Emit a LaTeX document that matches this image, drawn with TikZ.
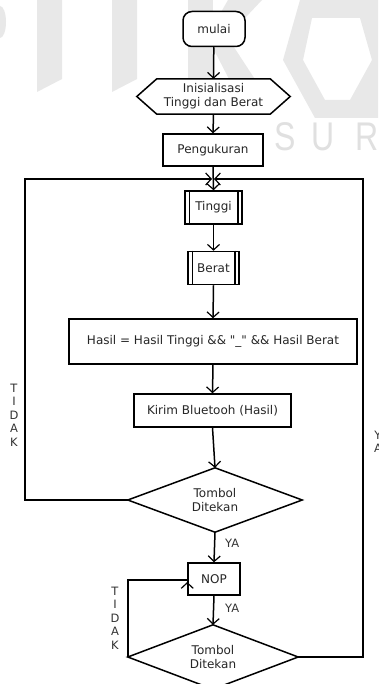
\documentclass[tikz,border=0pt]{standalone}
\usepackage{fontspec}
\setmainfont{DejaVu Sans}
\newfontfamily\markfont{Liberation Sans}
\usetikzlibrary{arrows.meta,calc}

\tikzset{
  line/.style={line width=1.5pt, draw=black},
  arr/.style={line, -{Straight Barb[length=5.5pt,width=12pt,line width=1.2pt]}},
  txt/.style={font={\fontsize{12}{14}\selectfont}, text=black!85, align=center, inner sep=0pt},
  procbox/.style={txt, draw=black, line width=1.5pt, fill=white},
  plain/.style={txt},
  vlabel/.style={font={\fontsize{11.5}{13.5}\selectfont}, text=black!80, align=center, inner sep=0pt},
  wmark/.style={fill=black!9, draw=none},
  markletter/.style={font=\markfont\fontsize{40}{40}\selectfont, text=black!12, inner sep=0pt, anchor=base, xscale=0.8},
}

\begin{document}
\begin{tikzpicture}[x=1pt,y=-1pt]
\useasboundingbox (0,0) rectangle (378,684);
\fill[white] (0,0) rectangle (378,684);

% faint background lettering
\fill[wmark] (0,38) arc (90:-90:6 and 16) -- cycle;
\fill[wmark] (37,0) -- (62,0) -- (62,79) -- (37,92) -- cycle;
\fill[wmark] (112,0) -- (137,0) -- (137,79) -- (112,92) -- cycle;
\fill[wmark] (188,0) -- (213,0) -- (213,110) -- (188,110) -- cycle;
\fill[wmark] (228,0) -- (262,0) -- (213,52) -- (205,40) -- cycle;
\fill[wmark] (213,48) -- (228,38) -- (275,110) -- (245,110) -- cycle;
\fill[wmark, even odd rule] (300,0) -- (378,0) -- (378,118) -- (315,118) -- (283,60) -- cycle
  (312,18) -- (360,18) -- (372,60) -- (350,100) -- (325,100) -- (303,60) -- cycle;
\node[markletter] (wS) at (285,151) {S};
\node[markletter] (wU) at (323,151) {U};
\node[markletter] (wR) at (367,151) {R};
\node[markletter] (wA) at (405,151) {A};

% flowchart nodes
\node[procbox, rounded corners=9pt, minimum width=62pt, minimum height=35pt] (start) at (214,29) {mulai};

\node[plain, minimum width=153pt, minimum height=35pt] (init) at (213.5,96.5) {};
\draw[line, fill=white] (init.west) -- ([xshift=20pt]init.north west) -- ([xshift=-20pt]init.north east)
  -- (init.east) -- ([xshift=-20pt]init.south east) -- ([xshift=20pt]init.south west) -- cycle;
\node[plain] at (init) {Inisialisasi\\Tinggi dan Berat};

\node[procbox, minimum width=100pt, minimum height=32pt] (meas) at (213,150) {Pengukuran};

\node[procbox, minimum width=57pt, minimum height=33pt] (tinggi) at (213.5,207.5) {Tinggi};
\draw[line] ([xshift=5pt]tinggi.north west) -- ([xshift=5pt]tinggi.south west)
            ([xshift=-5pt]tinggi.north east) -- ([xshift=-5pt]tinggi.south east);

\node[procbox, minimum width=51pt, minimum height=33pt] (berat) at (213.5,268) {Berat};
\draw[line] ([xshift=5pt]berat.north west) -- ([xshift=5pt]berat.south west)
            ([xshift=-5pt]berat.north east) -- ([xshift=-5pt]berat.south east);

\node[procbox, minimum width=288pt, minimum height=45pt] (hasil) at (213,341.5)
  {Hasil = Hasil Tinggi \&\& \textquotedbl\_\textquotedbl{} \&\& Hasil Berat};

\node[procbox, minimum width=157pt, minimum height=33pt] (kirim) at (212.5,410.5) {Kirim Bluetooh (Hasil)};

\node[plain, minimum width=174pt, minimum height=64pt] (dec1) at (215,500) {};
\draw[line] (dec1.west) -- (dec1.north) -- (dec1.east) -- (dec1.south) -- cycle;
\node[plain] at (dec1) {Tombol\\Ditekan};

\node[procbox, minimum width=52pt, minimum height=32pt] (nop) at (214,579) {NOP};

\node[plain, minimum width=170pt, minimum height=64pt] (dec2) at (213,657) {};
\draw[line] (dec2.west) -- (dec2.north) -- (dec2.east) -- (dec2.south) -- cycle;
\node[plain] at (dec2) {Tombol\\Ditekan};

% loop junction above Tinggi
\coordinate (join) at (213,179);
\coordinate (leftrail) at (25,500);
\coordinate (rightrail) at (363,657);

% connectors
\draw[arr] (start) -- (init.north);
\draw[arr] (init.south) -- (meas.north);
\draw[arr] (meas.south) -- (tinggi.north);
\draw[arr] (tinggi.south) -- (berat.north);
\draw[arr] (berat.south) -- (hasil.north);
\draw[arr] (hasil.south) -- (kirim.north);
\draw[arr] (kirim.south) -- (dec1.north);
\draw[arr] (dec1.south) -- (nop.north);
\draw[arr] (nop.south) -- (dec2.north);

\draw[arr] (dec1.west) -- (leftrail) |- ([xshift=-1pt]join);
\draw[arr] (dec2.east) -- (rightrail) |- ([xshift=1pt]join);

\draw[line] (dec2.west) |- ([yshift=-1pt]nop.west);
\draw[arr] ($(nop.west)+(0,13)$) -- ($(nop.west)+(0,3)$);

% branch labels
\node[vlabel] (t1) at (14,415) {T\\I\\D\\A\\K};
\node[vlabel] (t2) at (115,618) {T\\I\\D\\A\\K};
\node[vlabel] (y0) at (378,442) {Y\\A};
\node[vlabel, anchor=west] (y1) at (225,543) {YA};
\node[vlabel, anchor=west] (y2) at (225,608) {YA};
\end{tikzpicture}
\end{document}
